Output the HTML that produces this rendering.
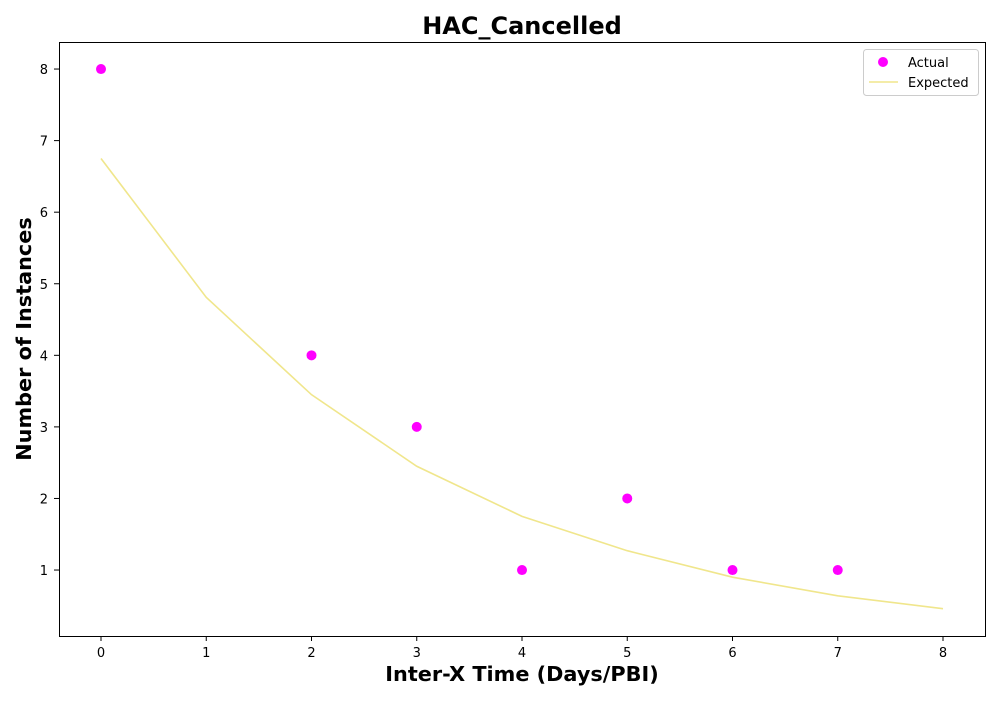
<!DOCTYPE html>
<html><head><meta charset="utf-8"><style>
body{margin:0;background:#fff;font-family:"Liberation Sans","DejaVu Sans",sans-serif}
</style></head><body>
<svg id="chart" width="1000" height="700" xmlns="http://www.w3.org/2000/svg" font-family="'DejaVu Sans','Liberation Sans',sans-serif">
<rect width="1000" height="700" fill="#fff"/>
<text x="522" y="34" text-anchor="middle" font-size="24" font-weight="bold">HAC_Cancelled</text>
<text x="522" y="681" text-anchor="middle" font-size="20.8" font-weight="bold">Inter-X Time (Days/PBI)</text>
<text transform="translate(31,339) rotate(-90)" text-anchor="middle" font-size="20.8" font-weight="bold">Number of Instances</text>
<g id="xticks"></g><g id="yticks"></g>
<polyline id="expected" fill="none" stroke="#f0e68c" stroke-width="1.6"/>
<g id="points"></g>
<rect x="59.5" y="42.5" width="926" height="594" fill="none" stroke="#000" stroke-width="1"/>
<g>
<rect x="863.5" y="49.5" width="115" height="46" rx="3" fill="#fff" stroke="#ccc"/>
<circle cx="883" cy="62" r="5" fill="#ff00ff"/>
<text x="908" y="67" font-size="13">Actual</text>
<line x1="869" y1="82" x2="898" y2="82" stroke="#f0e68c" stroke-width="1.6"/>
<text x="908" y="87" font-size="13">Expected</text>
</g>
</svg>
<script>
const xTicks=[0,1,2,3,4,5,6,7,8];
const yTicks=[1,2,3,4,5,6,7,8];
const actualX=[0,2,3,4,5,6,7];
const actualY=[8,4,3,1,2,1,1];
const expectedX=[0,1,2,3,4,5,6,7,8];
const expectedY=[6.75,4.81,3.45,2.45,1.75,1.27,0.9,0.64,0.46];
const NS="http://www.w3.org/2000/svg";
function sx(v){return 101+v*105.25;}
function sy(v){return 641.6-v*71.57;}
const xg=document.getElementById('xticks'),yg=document.getElementById('yticks');
xTicks.forEach(t=>{
 const l=document.createElementNS(NS,'line');
 l.setAttribute('x1',sx(t));l.setAttribute('x2',sx(t));l.setAttribute('y1',636);l.setAttribute('y2',641);l.setAttribute('stroke','#000');
 
 
 xg.appendChild(l);
 const tx=document.createElementNS(NS,'text');
 tx.setAttribute('x',sx(t));tx.setAttribute('y',657);tx.setAttribute('text-anchor','middle');tx.setAttribute('font-size','13');tx.textContent=t;
 
 
 xg.appendChild(tx);
});
yTicks.forEach(t=>{
 const l=document.createElementNS(NS,'line');
 l.setAttribute('x1',54);l.setAttribute('x2',59);l.setAttribute('y1',sy(t));l.setAttribute('y2',sy(t));l.setAttribute('stroke','#000');
 
 
 yg.appendChild(l);
 const tx=document.createElementNS(NS,'text');
 tx.setAttribute('x',48);tx.setAttribute('y',sy(t)+5);tx.setAttribute('text-anchor','end');tx.setAttribute('font-size','13');tx.textContent=t;
 
 
 yg.appendChild(tx);
});
document.getElementById('expected').setAttribute('points',expectedX.map((x,i)=>sx(x)+','+sy(expectedY[i])).join(' '));
const pg=document.getElementById('points');
actualX.forEach((x,i)=>{
 const c=document.createElementNS(NS,'circle');
 c.setAttribute('cx',sx(x));c.setAttribute('cy',sy(actualY[i]));c.setAttribute('r',5);c.setAttribute('fill','#ff00ff');
 
 
 pg.appendChild(c);
});
</script>
</body></html>
